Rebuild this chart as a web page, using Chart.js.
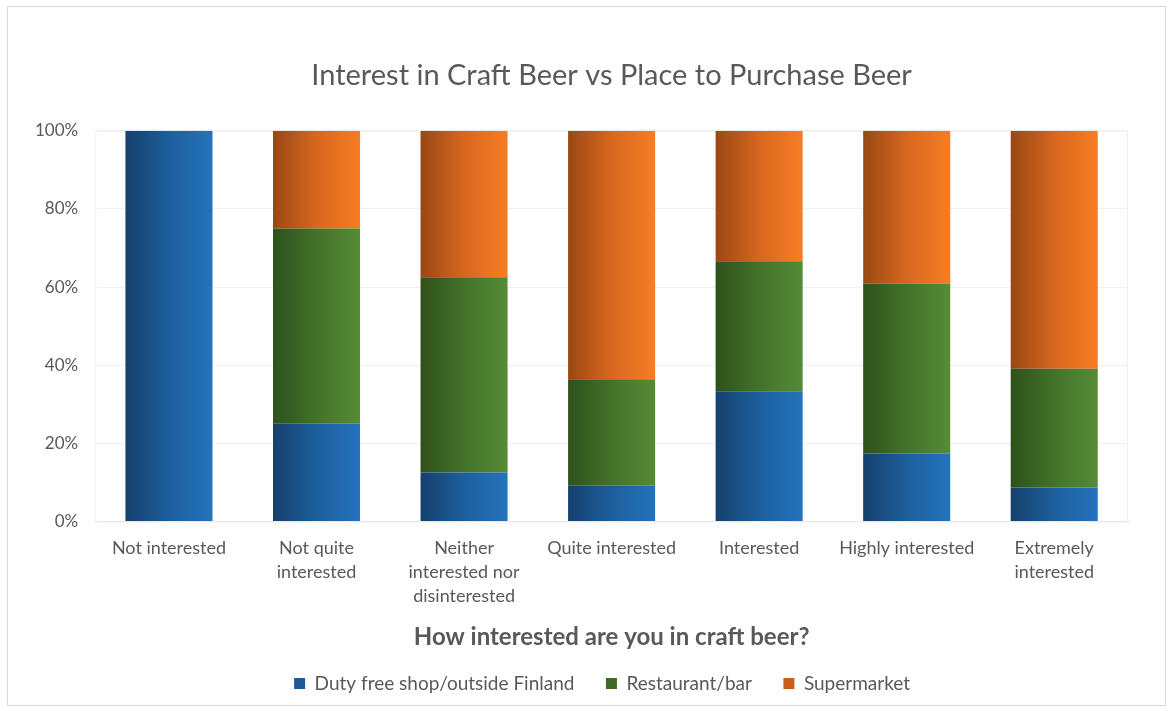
<!DOCTYPE html>
<html>
<head>
<meta charset="utf-8">
<script src="https://cdn.jsdelivr.net/npm/chart.js@4"></script>
<style>
  html, body { margin: 0; padding: 0; background: #fff; }
  #frame {
    position: absolute; left: 7px; top: 6px;
    width: 1159px; height: 700px;
    border: 1px solid #d9d9d9; box-sizing: border-box;
  }
</style>
</head>
<body>
<div id="frame"><canvas id="myChart" width="1157" height="698"></canvas></div>
<script>
var categories = [
    'Not interested',
    ['Not quite', 'interested'],
    ['Neither', 'interested nor', 'disinterested'],
    'Quite interested',
    'Interested',
    'Highly interested',
    ['Extremely', 'interested']
];
var dutyFree = [100, 25, 12.5, 9.1, 33.3, 17.4, 8.7];
var restaurant = [0, 50, 50, 27.3, 33.3, 43.5, 30.4];
var supermarket = [0, 25, 37.5, 63.6, 33.4, 39.1, 60.9];
var yTicks = [0, 20, 40, 60, 80, 100];

var barShare = 0.59;
var fontFamily = 'Lato';

// horizontal shading across each bar: dark on the left, brighter on the right
function shade(stops, solid) {
    return function (c) {
        var chart = c.chart;
        if (!chart.chartArea || c.dataIndex === undefined) return solid;
        var x = chart.scales.x;
        var mid = x.getPixelForValue(c.dataIndex);
        var half = (x.width / categories.length) * barShare / 2;
        var g = chart.ctx.createLinearGradient(mid - half, 0, mid + half, 0);
        g.addColorStop(0, stops[0]);
        g.addColorStop(0.5, stops[1]);
        g.addColorStop(1, stops[2]);
        return g;
    };
}

var ctx = document.getElementById('myChart').getContext('2d');
var chart = new Chart(ctx, {
    type: 'bar',
    data: {
        labels: categories,
        datasets: [
            {
                label: 'Duty free shop/outside Finland',
                data: dutyFree,
                backgroundColor: shade(['#15406c', '#1d5f9c', '#2473bd'], '#1e64a6'),
                legendColor: '#1e5a96'
            },
            {
                label: 'Restaurant/bar',
                data: restaurant,
                backgroundColor: shade(['#2e511c', '#437229', '#568b36'], '#47752b'),
                legendColor: '#3f6a26'
            },
            {
                label: 'Supermarket',
                data: supermarket,
                backgroundColor: shade(['#994813', '#d7671f', '#f77d23'], '#e06c20'),
                legendColor: '#c85e1c'
            }
        ]
    },
    options: {
        responsive: false,
        animation: false,
        barPercentage: barShare,
        categoryPercentage: 1,
        layout: {
            padding: { left: 10, right: 37, top: 10, bottom: 2 }
        },
        plugins: {
            title: {
                display: true,
                fullSize: false,
                text: 'Interest in Craft Beer vs Place to Purchase Beer',
                color: '#595959',
                font: { family: fontFamily, size: 29, weight: 'normal' },
                padding: { top: 41, bottom: 38 }
            },
            legend: {
                position: 'bottom',
                fullSize: false,
                labels: {
                    color: '#595959',
                    font: { family: fontFamily, size: 19 },
                    boxWidth: 11,
                    boxHeight: 11,
                    padding: 22,
                    generateLabels: function (chart) {
                        var sets = chart.data.datasets;
                        return sets.map(function (ds, i) {
                            // a little extra room between entries, and after the last
                            var gap = i < sets.length - 1 ? '\u2002' : '\u2002\u2002';
                            return {
                                text: ds.label + gap,
                                fillStyle: ds.legendColor,
                                strokeStyle: '#ffffff',
                                lineWidth: 0,
                                fontColor: '#595959',
                                datasetIndex: i
                            };
                        });
                    }
                }
            },
            tooltip: { enabled: false }
        },
        scales: {
            x: {
                stacked: true,
                grid: { display: false, drawTicks: false },
                border: { color: '#d9d9d9' },
                ticks: {
                    color: '#595959',
                    font: { family: fontFamily, size: 18, lineHeight: 1.33 },
                    padding: 15,
                    maxRotation: 0,
                    autoSkip: false
                },
                title: {
                    display: true,
                    text: 'How interested are you in craft beer?',
                    color: '#595959',
                    font: { family: fontFamily, size: 24, weight: 'bold' },
                    padding: { top: 0, bottom: 0 }
                }
            },
            y: {
                stacked: true,
                min: 0,
                max: 100,
                afterBuildTicks: function (scale) {
                    scale.ticks = yTicks.map(function (v) { return { value: v }; });
                },
                grid: { color: '#f0f0f0', drawTicks: false },
                border: { display: false },
                ticks: {
                    color: '#595959',
                    font: { family: fontFamily, size: 17 },
                    padding: 17,
                    callback: function (v) { return v + '%'; }
                }
            }
        }
    },
    plugins: [{
        id: 'plotFrame',
        beforeDatasetsDraw: function (chart) {
            var a = chart.chartArea, c = chart.ctx;
            c.save();
            c.strokeStyle = '#f0f0f0';
            c.lineWidth = 1;
            c.strokeRect(a.left + 0.5, a.top + 0.5, a.width - 1, a.height);
            c.restore();
        }
    }]
});
</script>
</body>
</html>
